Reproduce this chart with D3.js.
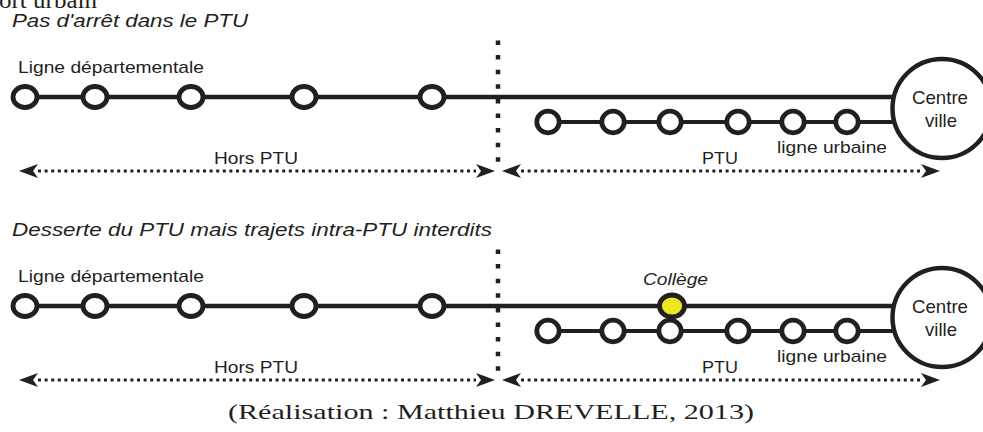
<!DOCTYPE html>
<html>
<head>
<meta charset="utf-8">
<script src="https://cdn.jsdelivr.net/npm/d3@7/dist/d3.min.js"></script>
<style>
  html, body { margin: 0; padding: 0; background: #fff; }
  svg { display: block; }
</style>
</head>
<body>
<script>
// ---------- data ----------
const panelTitles = ["Pas d'arrêt dans le PTU", "Desserte du PTU mais trajets intra-PTU interdits"];
const panelOffsets = [0, 209];
const deptLineLabel = "Ligne départementale";
const urbanLineLabel = "ligne urbaine";
const centreLabel = ["Centre", "ville"];
const zoneLabels = ["Hors PTU", "PTU"];
const deptStops = [25, 95, 191, 304, 432];          // stops of the departmental line (position along line)
const urbanStops = [548, 613, 670, 738, 793, 847];  // stops of the urban line
const collegeStops = [[], [672]];                    // served stops inside PTU (per panel)
const collegeLabel = "Collège";
const ptuBoundary = 498;
const zones = [[19, 495], [502, 940]];
const caption = "(Réalisation : Matthieu DREVELLE, 2013)";
const titleFragment = "ort urbain";

// ---------- setup ----------
const W = 983, H = 432;
const ink = "#231f20";
const x = d3.scaleLinear().domain([0, W]).range([0, W]);
const svg = d3.select("body").append("svg").attr("width", W).attr("height", H);

// cut-off title fragment
svg.append("text").attr("x", -1).attr("y", 8)
  .attr("font-family", "Liberation Serif, serif").attr("font-size", 24)
  .attr("textLength", 98).attr("lengthAdjust", "spacingAndGlyphs")
  .attr("fill", ink).text(titleFragment);

const sans = "Liberation Sans, Arial, sans-serif";
const centre = { cx: 942, cy: 108.5, r: 49.5 };

function arrowHead(g, tipX, y, dir) {
  // dir = -1 pointing left, +1 pointing right
  const L = 19, w = 7, n = 14;
  g.append("path")
    .attr("d", `M${tipX},${y} L${tipX - dir * L},${y - w} L${tipX - dir * n},${y} L${tipX - dir * L},${y + w} Z`)
    .attr("fill", ink);
}

panelTitles.forEach((title, i) => {
  const g = svg.append("g").attr("transform", `translate(0,${panelOffsets[i]})`);

  // subtitle
  g.append("text").attr("x", 12).attr("y", 27)
    .attr("font-family", sans).attr("font-style", "italic").attr("font-size", 19)
    .attr("textLength", i === 0 ? 236 : 480).attr("lengthAdjust", "spacingAndGlyphs")
    .attr("fill", ink).text(title);

  // departmental line label
  g.append("text").attr("x", 18).attr("y", 73)
    .attr("font-family", sans).attr("font-size", 17)
    .attr("textLength", 186).attr("lengthAdjust", "spacingAndGlyphs")
    .attr("fill", ink).text(deptLineLabel);

  // PTU boundary (dotted vertical)
  g.append("line").attr("x1", x(ptuBoundary)).attr("x2", x(ptuBoundary))
    .attr("y1", 40.5).attr("y2", 163)
    .attr("stroke", ink).attr("stroke-width", 4.5).attr("stroke-dasharray", "4.5,10.1");

  // departmental line
  g.append("line").attr("x1", x(deptStops[0])).attr("x2", centre.cx - centre.r)
    .attr("y1", 97).attr("y2", 97).attr("stroke", ink).attr("stroke-width", 4.5);

  // urban line
  g.append("line").attr("x1", x(urbanStops[0])).attr("x2", centre.cx - centre.r)
    .attr("y1", 122).attr("y2", 122).attr("stroke", ink).attr("stroke-width", 4);

  // departmental stops
  g.selectAll(".dstop").data(deptStops).enter().append("ellipse")
    .attr("cx", d => x(d)).attr("cy", 97).attr("rx", 12).attr("ry", 10.5)
    .attr("fill", "#fff").attr("stroke", ink).attr("stroke-width", 4.8);

  // urban stops
  g.selectAll(".ustop").data(urbanStops).enter().append("ellipse")
    .attr("cx", d => x(d)).attr("cy", 122).attr("rx", 11.2).attr("ry", 10.8)
    .attr("fill", "#fff").attr("stroke", ink).attr("stroke-width", 4.8);

  // collège stop
  g.selectAll(".cstop").data(collegeStops[i]).enter().append("ellipse")
    .attr("cx", d => x(d)).attr("cy", 97).attr("rx", 12.5).attr("ry", 11)
    .attr("fill", "#ebe526").attr("stroke", ink).attr("stroke-width", 4.8);
  g.selectAll(".clab").data(collegeStops[i]).enter().append("text")
    .attr("x", d => x(d) - 29).attr("y", 76)
    .attr("font-family", sans).attr("font-style", "italic").attr("font-size", 17)
    .attr("textLength", 65).attr("lengthAdjust", "spacingAndGlyphs")
    .attr("fill", ink).text(collegeLabel);

  // centre-ville circle
  g.append("circle").attr("cx", centre.cx).attr("cy", centre.cy).attr("r", centre.r)
    .attr("fill", "#fff").attr("stroke", ink).attr("stroke-width", 4.5);
  g.append("text").attr("x", 912).attr("y", 104)
    .attr("font-family", sans).attr("font-size", 19)
    .attr("textLength", 56).attr("lengthAdjust", "spacingAndGlyphs")
    .attr("fill", ink).text(centreLabel[0]);
  g.append("text").attr("x", 925).attr("y", 127)
    .attr("font-family", sans).attr("font-size", 19)
    .attr("textLength", 32).attr("lengthAdjust", "spacingAndGlyphs")
    .attr("fill", ink).text(centreLabel[1]);

  // urban line label
  g.append("text").attr("x", 777).attr("y", 153)
    .attr("font-family", sans).attr("font-size", 17)
    .attr("textLength", 110).attr("lengthAdjust", "spacingAndGlyphs")
    .attr("fill", ink).text(urbanLineLabel);

  // zone arrows
  zones.forEach((z, k) => {
    const y = 171;
    g.append("line").attr("x1", x(z[0]) + 19).attr("x2", x(z[1]) - 19)
      .attr("y1", y).attr("y2", y)
      .attr("stroke", ink).attr("stroke-width", 3).attr("stroke-dasharray", "3,3.6");
    arrowHead(g, x(z[0]), y, -1);
    arrowHead(g, x(z[1]), y, 1);
  });
  g.append("text").attr("x", 214).attr("y", 163.5)
    .attr("font-family", sans).attr("font-size", 17)
    .attr("textLength", 84).attr("lengthAdjust", "spacingAndGlyphs")
    .attr("fill", ink).text(zoneLabels[0]);
  g.append("text").attr("x", 702).attr("y", 163.5)
    .attr("font-family", sans).attr("font-size", 17)
    .attr("textLength", 36).attr("lengthAdjust", "spacingAndGlyphs")
    .attr("fill", ink).text(zoneLabels[1]);
});

// caption
svg.append("text").attr("x", 228).attr("y", 419)
  .attr("font-family", "Liberation Serif, serif").attr("font-size", 21)
  .attr("textLength", 526).attr("lengthAdjust", "spacingAndGlyphs")
  .attr("fill", ink).text(caption);
</script>
</body>
</html>
